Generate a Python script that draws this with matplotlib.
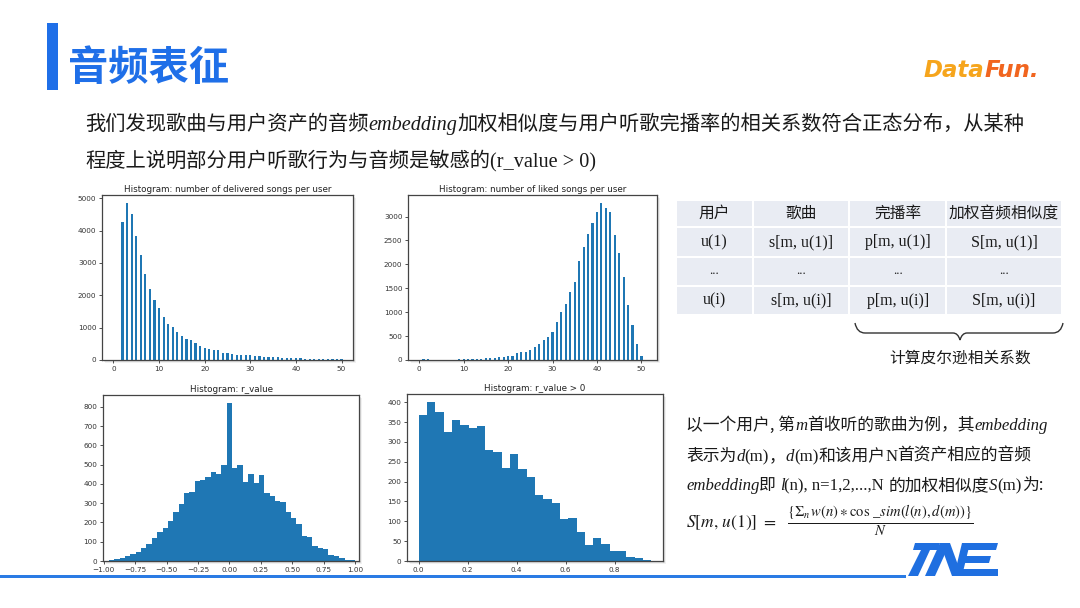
import numpy as np
import matplotlib
matplotlib.use('Agg')
import matplotlib.pyplot as plt
from matplotlib.patches import Rectangle, Polygon, PathPatch
from matplotlib.path import Path

W, H = 1080, 608
plt.rcParams['font.family'] = ['DejaVu Sans']
plt.rcParams['mathtext.fontset'] = 'stix'
CJK = 'Noto Sans CJK SC'
SERIF = 'Liberation Serif'

# ---------------- data ----------------
delivered_songs = list(range(2, 51))
delivered_counts = [4270, 4850, 4500, 3830, 3240, 2650, 2200, 1870, 1620, 1330,
                    1120, 1030, 880, 750, 650, 630, 530, 420, 380, 330,
                    300, 300, 230, 230, 200, 160, 150, 140, 140, 120,
                    115, 100, 100, 100, 80, 70, 70, 55, 50, 50,
                    45, 45, 45, 40, 35, 35, 35, 30, 30]
liked_songs = list(range(1, 51))
liked_counts = [15, 15, 0, 0, 10, 0, 10, 0, 15, 15,
                20, 20, 25, 30, 40, 45, 50, 65, 55, 80,
                90, 140, 165, 175, 210, 265, 330, 420, 485, 595,
                785, 1000, 1170, 1415, 1625, 2070, 2360, 2630, 2870, 3105,
                3280, 3170, 3100, 2620, 2230, 1740, 1150, 730, 335, 90]
r_range = (-1.0, 1.0)
r_counts = [1, 3, 10, 15, 26, 34, 48, 65, 86, 117, 151, 172, 210, 255, 298, 351,
            358, 413, 420, 434, 461, 451, 499, 822, 482, 496, 410, 453, 406, 449,
            355, 336, 313, 306, 255, 224, 194, 131, 126, 79, 65, 60, 31, 24, 14, 7, 3]
rpos_range = (0.0, 0.95)
rpos_counts = [367, 401, 376, 324, 356, 344, 335, 341, 280, 276, 235, 271, 231, 213,
               167, 157, 147, 105, 109, 72, 40, 57, 42, 26, 24, 10, 8, 3]

hist_titles = ['Histogram: number of delivered songs per user',
               'Histogram: number of liked songs per user',
               'Histogram: r_value', 'Histogram: r_value > 0']
delivered_yticks = [0, 1000, 2000, 3000, 4000, 5000]
delivered_xticks = [0, 10, 20, 30, 40, 50]
liked_yticks = [0, 500, 1000, 1500, 2000, 2500, 3000]
liked_xticks = [0, 10, 20, 30, 40, 50]
r_yticks = [0, 100, 200, 300, 400, 500, 600, 700, 800]
r_xticks = [-1.0, -0.75, -0.5, -0.25, 0.0, 0.25, 0.5, 0.75, 1.0]
rpos_yticks = [0, 50, 100, 150, 200, 250, 300, 350, 400]
rpos_xticks = [0.0, 0.2, 0.4, 0.6, 0.8]

table_header = ['用户', '歌曲', '完播率', '加权音频相似度']
table_rows = [['u(1)', 's[m, u(1)]', 'p[m, u(1)]', 'S[m, u(1)]'],
              ['...', '...', '...', '...'],
              ['u(i)', 's[m, u(i)]', 'p[m, u(i)]', 'S[m, u(i)]']]

BAR = '#1f77b4'
BLUE = '#1f6fe8'
TXT = '#1a1a1a'

fig = plt.figure(figsize=(10.8, 6.08), dpi=100)
fig.patch.set_facecolor('white')


def fx(px):
    return px / W


def fy(py):
    return 1 - py / H


def make_axes(l, t, r, b, title):
    for off, a in [(3, 0.10), (2, 0.15), (1, 0.2)]:
        fig.add_artist(Rectangle((fx(l + off), fy(b + off)), (r - l) / W, (b - t) / H,
                                 transform=fig.transFigure, facecolor='#777777',
                                 alpha=a, lw=0, zorder=-1))
    ax = fig.add_axes([fx(l), fy(b), (r - l) / W, (b - t) / H])
    for s in ax.spines.values():
        s.set_color('#444444')
        s.set_linewidth(0.9)
    ax.tick_params(labelsize=5.2, length=2.5, width=0.6, pad=1.5, colors='#333333')
    ax.set_title(title, fontsize=6.3, pad=2.5, color='#222222')
    return ax


# ---- histograms ----
ax1 = make_axes(102, 195, 353, 360, hist_titles[0])
ax1.bar(delivered_songs, delivered_counts, width=0.48, color=BAR, lw=0)
ax1.set_xticks(delivered_xticks)
ax1.set_yticks(delivered_yticks)
ax1.set_xlim(-2.5, 52.5)
ax1.set_ylim(0, 5100)

ax2 = make_axes(408, 195, 657, 360, hist_titles[1])
ax2.bar(liked_songs, liked_counts, width=0.48, color=BAR, lw=0)
ax2.set_xticks(liked_xticks)
ax2.set_yticks(liked_yticks)
ax2.set_xlim(-2.5, 53.5)
ax2.set_ylim(0, 3450)

ax3 = make_axes(103, 395, 359, 561, hist_titles[2])
r_edges = np.linspace(r_range[0], r_range[1], len(r_counts) + 1)
ax3.bar(r_edges[:-1], r_counts, width=np.diff(r_edges), align='edge', color=BAR, lw=0)
ax3.set_xticks(r_xticks)
ax3.set_xticklabels(['%.2f' % v if v >= 0 else '\u2212%.2f' % -v for v in r_xticks])
ax3.set_yticks(r_yticks)
ax3.set_xlim(-1.005, 1.03)
ax3.set_ylim(0, 862)

ax4 = make_axes(407, 394, 663, 561, hist_titles[3])
p_edges = np.linspace(rpos_range[0], rpos_range[1], len(rpos_counts) + 1)
ax4.bar(p_edges[:-1], rpos_counts, width=np.diff(p_edges), align='edge', color=BAR, lw=0)
ax4.set_xticks(rpos_xticks)
ax4.set_yticks(rpos_yticks)
ax4.set_xlim(-0.0475, 0.9975)
ax4.set_ylim(0, 421)

# ---- header ----
fig.add_artist(Rectangle((fx(47), fy(90)), 11 / W, 67 / H, transform=fig.transFigure,
                         facecolor=BLUE, lw=0))
fig.text(fx(68), fy(69), '音频表征', family=CJK, fontsize=29, weight='bold',
         color=BLUE, va='center', ha='left')

renderer = fig.canvas.get_renderer()
STY = {
    'c': dict(family=[CJK, 'DejaVu Sans']),
    'i': dict(family=SERIF, style='italic'),
    's': dict(family=SERIF),
    'logo': dict(family='DejaVu Sans', weight='bold', style='italic'),
}


def rich(x, y, pieces, size, color=TXT):
    cur = x
    for piece in pieces:
        s, st = piece[0], piece[1]
        col = piece[2] if len(piece) > 2 else color
        t = fig.text(fx(cur), fy(y), s, fontsize=size, va='baseline', ha='left',
                     color=col, **STY[st])
        bb = t.get_window_extent(renderer=renderer)
        cur += bb.width
    return cur


rich(924, 77, [('Data', 'logo', '#f6a51c'), ('Fun.', 'logo', '#f1651f')], 16.5)

rich(85, 130, [('我们发现歌曲与用户资产的音频', 'c'), ('embedding', 'i'),
               ('加权相似度与用户听歌完播率的相关系数符合正态分布，从某种', 'c')], 14.6)
rich(85, 167, [('程度上说明部分用户听歌行为与音频是敏感的', 'c'), ('(r_value > 0)', 's')], 14.6)

# ---- table ----
col_edges = [676, 752.7, 849.3, 946, 1062]
row_edges = [200, 227.3, 256.7, 286, 315]
for i in range(4):
    for j in range(4):
        l, r = col_edges[j], col_edges[j + 1]
        t, b = row_edges[i], row_edges[i + 1]
        fig.add_artist(Rectangle((fx(l + 1), fy(b - 1)), (r - l - 2) / W, (b - t - 2) / H,
                                 transform=fig.transFigure, facecolor='#e9ecf3', lw=0))
for j, h in enumerate(table_header):
    cx = (col_edges[j] + col_edges[j + 1]) / 2
    cy = (row_edges[0] + row_edges[1]) / 2
    fig.text(fx(cx), fy(cy), h, family=CJK, fontsize=11.3, ha='center', va='center', color=TXT)
for i, row in enumerate(table_rows):
    for j, v in enumerate(row):
        cx = (col_edges[j] + col_edges[j + 1]) / 2
        cy = (row_edges[i + 1] + row_edges[i + 2]) / 2
        fig.text(fx(cx), fy(cy), v, family=SERIF, fontsize=11.5 if v != '...' else 9,
                 ha='center', va='center', color=TXT)

# brace
bx0, bx1, bmid = 855, 1063, 960
by0, by1, by2 = 323, 333, 340
verts = [(bx0, by0), (bx0 + 2, by1), (bx0 + 10, by1), (bmid - 7, by1), (bmid - 2, by1),
         (bmid, by2), (bmid + 2, by1), (bmid + 7, by1), (bx1 - 10, by1), (bx1 - 2, by1), (bx1, by0)]
codes = [Path.MOVETO, Path.CURVE3, Path.CURVE3, Path.LINETO, Path.CURVE3, Path.CURVE3,
         Path.CURVE3, Path.CURVE3, Path.LINETO, Path.CURVE3, Path.CURVE3]
pv = [(fx(x), fy(y)) for x, y in verts]
fig.add_artist(PathPatch(Path(pv, codes), transform=fig.transFigure, fill=False,
                         edgecolor='#333333', lw=1.0))
fig.text(fx(960), fy(358), '计算皮尔逊相关系数', family=CJK, fontsize=11.3,
         ha='center', va='center', color=TXT)

# ---- right text ----
rich(686, 430, [('以一个用户, 第', 'c'), ('m', 'i'), ('首收听的歌曲为例，其', 'c'),
                ('embedding', 'i')], 12.1)
rich(686, 461, [('表示为', 'c'), ('d', 'i'), ('(m)', 's'), ('，', 'c'), ('d', 'i'), ('(m)', 's'),
                ('和该用户', 'c'), ('N', 's'), ('首资产相应的音频', 'c')], 12.1)
rich(686, 490, [('embedding', 'i'), ('即 ', 'c'), ('l', 'i'), ('(n), n=1,2,...,N ', 's'),
                ('的加权相似度', 'c'), ('S', 'i'), ('(m)', 's'), ('为:', 'c')], 12.1)

fig.text(fx(686), fy(527), r'$S[m,\,u(1)]\ =\ $', fontsize=12.5, va='baseline',
         ha='left', color=TXT)
fig.text(fx(787), fy(521), r'$\frac{\{\Sigma_n\, w(n)\ast\cos\,\_sim(l(n),d(m))\}}{N}$',
         fontsize=15, va='center', ha='left', color=TXT)

# ---- bottom line and logo ----
fig.add_artist(Rectangle((0, fy(578)), 906 / W, 3 / H, transform=fig.transFigure,
                         facecolor='#2a7be4', lw=0))
logo_polys = [
    [(915, 543), (940, 543), (938, 550), (913, 550)],
    [(921, 550), (930, 550), (918, 576), (908, 576)],
    [(940, 543), (950, 543), (962, 576), (952, 576)],
    [(940, 543), (950, 543), (935, 576), (925, 576)],
    [(962, 543), (970, 543), (962, 576), (954, 576)],
    [(966, 543), (998, 543), (996, 550), (964, 550)],
    [(962, 556), (991, 556), (989, 563), (960, 563)],
    [(958, 569), (998, 569), (998, 576), (956, 576)],
]
for poly in logo_polys:
    fig.add_artist(Polygon([(fx(x), fy(y)) for x, y in poly], closed=True,
                           transform=fig.transFigure, facecolor='#1f6fe0', lw=0))

fig.savefig('out.png', dpi=100)
